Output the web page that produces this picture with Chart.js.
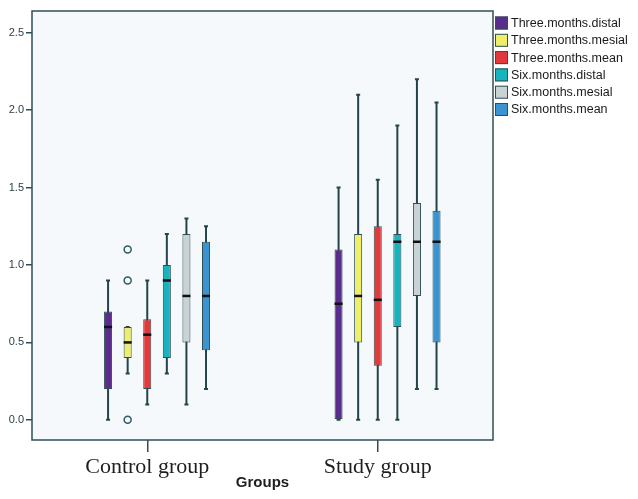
<!DOCTYPE html>
<html><head><meta charset="utf-8">
<script src="https://cdn.jsdelivr.net/npm/chart.js@4/dist/chart.umd.min.js"></script>
<style>html,body{margin:0;padding:0;background:#fff}#wrap{width:638px;height:499px;position:relative}</style>
</head><body><div id="wrap"><canvas id="c"></canvas></div>
<script>
const categories = ['Control group', 'Study group'];
const seriesNames = ['Three.months.distal', 'Three.months.mesial', 'Three.months.mean', 'Six.months.distal', 'Six.months.mesial', 'Six.months.mean'];
const seriesColors = ['#5a2d8c', '#eeee6a', '#e5383b', '#19b3bd', '#c9d3d6', '#3b93cf'];
const yTicks = [0, 0.5, 1.0, 1.5, 2.0, 2.5];

// five-number summaries [min, q1, median, q3, max] for [Control, Study]
const threeMonthsDistal = [[0, 0.2, 0.6, 0.7, 0.9], [0, 0, 0.75, 1.1, 1.5]];
const threeMonthsMesial = [[0.3, 0.4, 0.5, 0.6, 0.6], [0, 0.5, 0.8, 1.2, 2.1]];
const threeMonthsMean   = [[0.1, 0.2, 0.55, 0.65, 0.9], [0, 0.35, 0.775, 1.25, 1.55]];
const sixMonthsDistal   = [[0.3, 0.4, 0.9, 1.0, 1.2], [0, 0.6, 1.15, 1.2, 1.9]];
const sixMonthsMesial   = [[0.1, 0.5, 0.8, 1.2, 1.3], [0.2, 0.8, 1.15, 1.4, 2.2]];
const sixMonthsMean     = [[0.2, 0.45, 0.8, 1.15, 1.25], [0.2, 0.5, 1.15, 1.35, 2.05]];

// outliers for [Control, Study]
const threeMonthsMesialOutliers = [[1.1, 0.9, 0.0], []];
const noOutliers = [[], []];

const summaries = [threeMonthsDistal, threeMonthsMesial, threeMonthsMean, sixMonthsDistal, sixMonthsMesial, sixMonthsMean];
const outlierSets = [noOutliers, threeMonthsMesialOutliers, noOutliers, noOutliers, noOutliers, noOutliers];

const datasets = [{ label: '', data: [null, null], isSpacer: true }];
summaries.forEach((s, i) => {
  datasets.push({
    label: seriesNames[i],
    data: s.map(r => [r[1], r[3]]),
    stats: s,
    outliers: outlierSets[i],
    backgroundColor: seriesColors[i],
    borderColor: '#2f4f55',
    borderWidth: 1,
    borderSkipped: false
  });
});

const AXIS = '#2e4f55';

const boxPlugin = {
  id: 'boxExtras',
  beforeDraw(chart) {
    const { ctx, chartArea: a } = chart;
    ctx.save();
    ctx.fillStyle = '#f5f9fc';
    ctx.fillRect(a.left, a.top, a.right - a.left, a.bottom - a.top);
    ctx.restore();
  },
  beforeDatasetsDraw(chart) {
    const { ctx } = chart;
    const y = chart.scales.y;
    ctx.save();
    chart.data.datasets.forEach((ds, i) => {
      if (ds.isSpacer) return;
      const meta = chart.getDatasetMeta(i);
      meta.data.forEach((el, j) => {
        const st = ds.stats[j];
        const x = el.x;
        const yMin = y.getPixelForValue(st[0]);
        const yMax = y.getPixelForValue(st[4]);
        ctx.strokeStyle = '#24434a';
        ctx.lineWidth = 2;
        ctx.beginPath();
        ctx.moveTo(x, yMin); ctx.lineTo(x, yMax);
        ctx.stroke();
        ctx.beginPath();
        ctx.moveTo(x - 2, yMin); ctx.lineTo(x + 2, yMin);
        ctx.moveTo(x - 2, yMax); ctx.lineTo(x + 2, yMax);
        ctx.stroke();
      });
    });
    ctx.restore();
  },
  afterDatasetsDraw(chart) {
    const { ctx } = chart;
    const y = chart.scales.y;
    ctx.save();
    chart.data.datasets.forEach((ds, i) => {
      if (ds.isSpacer) return;
      const meta = chart.getDatasetMeta(i);
      meta.data.forEach((el, j) => {
        const st = ds.stats[j];
        const x = el.x, w = el.width;
        const yMed = y.getPixelForValue(st[2]);
        ctx.strokeStyle = '#111';
        ctx.lineWidth = 2.5;
        ctx.beginPath();
        ctx.moveTo(x - w / 2, yMed); ctx.lineTo(x + w / 2, yMed);
        ctx.stroke();
        ds.outliers[j].forEach(v => {
          ctx.strokeStyle = '#2f5a60';
          ctx.fillStyle = '#f5f9fc';
          ctx.lineWidth = 1.5;
          ctx.beginPath();
          ctx.arc(x, y.getPixelForValue(v), 3.5, 0, Math.PI * 2);
          ctx.fill(); ctx.stroke();
        });
      });
    });
    ctx.restore();
  },
  afterDraw(chart) {
    const { ctx, chartArea: a } = chart;
    ctx.save();
    ctx.strokeStyle = AXIS;
    ctx.lineWidth = 1.5;
    ctx.strokeRect(a.left, a.top, a.right - a.left, a.bottom - a.top);
    // legend
    let row = 0;
    ctx.font = '12.5px "Liberation Sans", Arial, sans-serif';
    ctx.textBaseline = 'middle';
    chart.data.datasets.forEach(ds => {
      if (ds.isSpacer) return;
      const cy = 23 + row * 17.3;
      const bx = a.right + 2;
      ctx.fillStyle = ds.backgroundColor;
      ctx.fillRect(bx, cy - 6.5, 13, 13);
      ctx.strokeStyle = '#2f4f55';
      ctx.lineWidth = 1;
      ctx.strokeRect(bx + 0.5, cy - 6, 12, 12);
      ctx.fillStyle = '#1a1a1a';
      ctx.fillText(ds.label, bx + 16, cy + 0.5);
      row++;
    });
    ctx.restore();
  }
};

new Chart(document.getElementById('c'), {
  type: 'bar',
  data: { labels: categories, datasets },
  options: {
    responsive: true,
    maintainAspectRatio: false,
    animation: false,
    layout: { padding: { top: 11, right: 145, left: 0, bottom: 0 } },
    datasets: { bar: { categoryPercentage: 0.595, barPercentage: 0.41 } },
    plugins: { legend: { display: false }, tooltip: { enabled: false } },
    scales: {
      x: {
        type: 'category',
        offset: true,
        grid: { offset: false, drawOnChartArea: false, drawTicks: true, tickLength: 12, color: AXIS, lineWidth: 1.5 },
        border: { display: false },
        ticks: { font: { family: '"Liberation Serif", "Times New Roman", serif', size: 22 }, color: '#1e1e1e', padding: 2 },
        title: { display: true, text: 'Groups', font: { family: '"Liberation Sans", Arial, sans-serif', size: 15, weight: 'bold' }, color: '#1e1e1e', padding: { top: 0, bottom: 7 } },
        afterFit(s) { s.height = 59; }
      },
      y: {
        min: -0.13,
        max: 2.64,
        afterBuildTicks(s) { s.ticks = yTicks.map(v => ({ value: v })); },
        grid: { drawOnChartArea: false, drawTicks: true, tickLength: 6, color: AXIS, lineWidth: 1.5 },
        border: { display: false },
        ticks: { callback: v => Number(v).toFixed(1), font: { family: '"Liberation Sans", Arial, sans-serif', size: 11 }, color: '#2b3f45', padding: 2 },
        afterFit(s) { s.width = 32; }
      }
    }
  },
  plugins: [boxPlugin]
});
</script>
</body></html>
